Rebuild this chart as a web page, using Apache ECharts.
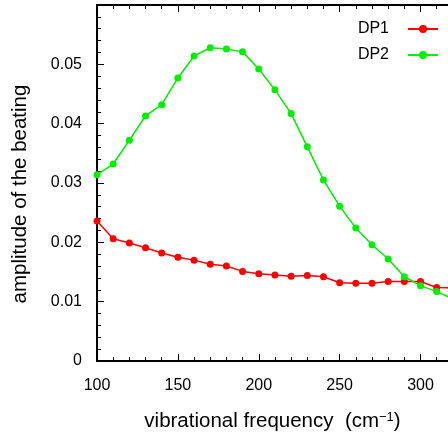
<!DOCTYPE html>
<html>
<head>
<meta charset="utf-8">
<script src="https://cdn.jsdelivr.net/npm/echarts@6/dist/echarts.min.js"></script>
<style>html,body{margin:0;padding:0;background:#fff}#c{width:448px;height:434px}</style>
</head>
<body>
<div id="c"></div>
<script>
const frequencies = [100,110,120,130,140,150,160,170,180,190,200,210,220,230,240,250,260,270,280,290,300,310,320];
const dp1 = [0.0236,0.0206,0.0199,0.0191,0.0182,0.0175,0.0170,0.0163,0.0160,0.0151,0.0147,0.0145,0.0143,0.0144,0.0142,0.0132,0.0131,0.0131,0.0134,0.0134,0.0134,0.0124,0.0123];
const dp2 = [0.0314,0.0332,0.0372,0.0413,0.0432,0.0477,0.0514,0.0528,0.0526,0.0521,0.0492,0.0457,0.0417,0.0361,0.0305,0.0261,0.0224,0.0196,0.0172,0.0142,0.0127,0.0117,0.0105];
const seriesNames = ['DP1','DP2'];
const xTitle = '{a|vibrational frequency  (cm}{s|\u22121}{a|)}';
const yTitle = 'amplitude of the beating';

const font = 'Liberation Sans, Arial, Helvetica, sans-serif';
const chart = echarts.init(document.getElementById('c'));
const pairs = arr => frequencies.map((f,i)=>[f,arr[i]]);
const axisBase = {
  axisLine:{show:true,lineStyle:{color:'#000',width:2}},
  axisTick:{show:true,inside:true,length:7,lineStyle:{color:'#000',width:1}},
  minorTick:{show:true,splitNumber:5,length:4,lineStyle:{color:'#000',width:1}},
  splitLine:{show:false}
};
chart.setOption({
  animation:false,
  grid:{left:97,top:5,right:0,bottom:73,containLabel:false,outerBoundsMode:'none'},
  legend:{
    orient:'vertical', right:4, top:16, align:'right',
    itemWidth:30, itemHeight:10, itemGap:10,
    textStyle:{fontFamily:font,fontSize:16,color:'#000',padding:[0,14,0,0]},
    data:seriesNames
  },
  xAxis:[{
    ...axisBase, type:'value', min:100, max:317, interval:50,
    axisLabel:{fontFamily:font,fontSize:16,color:'#000',margin:17,showMaxLabel:false},
    name:xTitle, nameLocation:'middle', nameGap:50,
    nameTextStyle:{rich:{a:{fontFamily:font,fontSize:20.5,color:'#000'},s:{fontFamily:font,fontSize:13,color:'#000',verticalAlign:'top',padding:[0,0,8,0]}}}
  },{
    ...axisBase, type:'value', position:'top', min:100, max:317, interval:50,
    axisLabel:{show:false}
  }],
  yAxis:{
    ...axisBase, type:'value', min:0, max:0.06, interval:0.01,
    axisLabel:{fontFamily:font,fontSize:16,color:'#000',margin:15,showMaxLabel:false},
    name:yTitle, nameLocation:'middle', nameGap:66,
    nameTextStyle:{fontFamily:font,fontSize:20.5,color:'#000',padding:[0,22,0,0]}
  },
  series:[
    {name:seriesNames[0],type:'line',data:pairs(dp1),symbol:'circle',symbolSize:7,
     itemStyle:{color:'#ff0000'},lineStyle:{color:'#ff0000',width:1.5},clip:true},
    {name:seriesNames[1],type:'line',data:pairs(dp2),symbol:'circle',symbolSize:7,
     itemStyle:{color:'#00ee00'},lineStyle:{color:'#00ee00',width:1.5},clip:true}
  ]
});
</script>
</body>
</html>
